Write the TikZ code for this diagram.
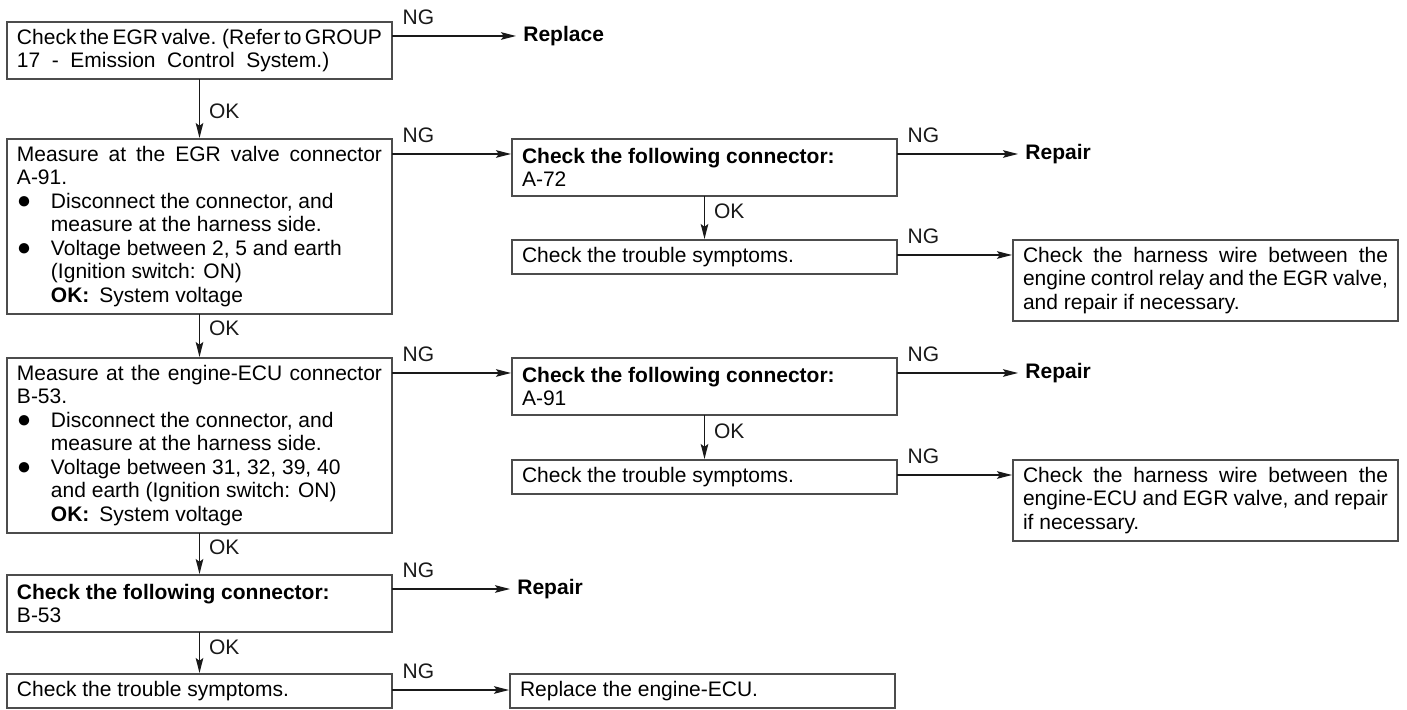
\documentclass[tikz,border=0pt]{standalone}
\usepackage{fontspec}
\setmainfont{Liberation Sans}
\usepackage{tikz}
\usetikzlibrary{arrows.meta, positioning}

\tolerance=10000
\hbadness=10000
\newcommand{\itembul}{\makebox[17pt][l]{\fontsize{12pt}{8pt}\selectfont ●}}
\newcommand{\itemind}{\hspace*{17pt}}

\begin{document}
\begin{tikzpicture}[
    font=\fontsize{10.5pt}{11.75pt}\selectfont,
    checkbox/.style={rectangle, draw=black!70, line width=0.8pt, outer sep=0pt, text width=182.5pt, inner xsep=5pt, inner ysep=0pt, minimum height=#1, align=justify},
    checkbox/.default=17pt,
    result/.style={font=\fontsize{10.5pt}{11.75pt}\selectfont\bfseries, inner xsep=3pt},
    flow/.style={-{Stealth[length=7.5pt, width=3.8pt, inset=1.4pt]}, line width=0.65pt, color=black!90, shorten >=0.5pt},
    ng/.style={pos=0, anchor=south west, inner sep=0pt, xshift=5pt, yshift=5.5pt},
    ok/.style={right=4.5pt, inner sep=0pt},
]
    \useasboundingbox (0pt,0pt) rectangle (703.5pt,-355pt);

    % Left column
    \node[checkbox=28.5pt, anchor=north west] (b1) at (3.5pt,-11pt) {\spaceskip=0.2em plus 0.2em minus 0.05em
        Check the EGR valve. (Refer to GROUP\linebreak\spaceskip=0.55em 17 - Emission Control System.)};
    \node[checkbox=87.5pt, below=30pt of b1] (b2) {Measure at the EGR valve connector\linebreak A-91.\\
        \itembul Disconnect the connector, and\\
        \itemind measure at the harness side.\\
        \itembul Voltage between 2, 5 and earth\\
        \itemind (Ignition switch: ON)\\
        \itemind\textbf{OK:}\hspace{5pt}System voltage};
    \node[checkbox=87.5pt, below=22pt of b2] (b6) {Measure at the engine-ECU connector\linebreak B-53.\\
        \itembul Disconnect the connector, and\\
        \itemind measure at the harness side.\\
        \itembul Voltage between 31, 32, 39, 40\\
        \itemind and earth (Ignition switch: ON)\\
        \itemind\textbf{OK:}\hspace{5pt}System voltage};
    \node[checkbox=28.5pt, below=21pt of b6] (b10) {\textbf{Check the following connector:}\\B-53};
    \node[checkbox, below=21pt of b10] (b11) {Check the trouble symptoms.};

    % Middle column
    \node[checkbox=28.5pt, right=60pt of b2.north east, anchor=north west] (b3) {\textbf{Check the following connector:}\\A-72};
    \node[checkbox, below=22pt of b3] (b4) {Check the trouble symptoms.};
    \node[checkbox=28.5pt, right=60pt of b6.north east, anchor=north west] (b7) {\textbf{Check the following connector:}\\A-91};
    \node[checkbox, below=22.5pt of b7] (b8) {Check the trouble symptoms.};
    \node[checkbox, right=59pt of b11.north east, anchor=north west] (b12) {Replace the engine-ECU.};

    % Right column
    \node[checkbox=40.5pt, right=58pt of b4.north east, anchor=north west] (b5) {Check the harness wire between the\linebreak engine control relay and the EGR valve,\linebreak and repair if necessary.};
    \node[checkbox=40.5pt, right=58pt of b8.north east, anchor=north west] (b9) {Check the harness wire between the\linebreak engine-ECU and EGR valve, and repair\linebreak if necessary.};

    % Results
    \node[result, right=62.5pt of b1.north east, yshift=-7pt] (r1) {Replace};
    \node[result, right=61pt of b3.north east, yshift=-7.5pt] (r2) {Repair};
    \node[result, right=61pt of b7.north east, yshift=-7.5pt] (r3) {Repair};
    \node[result, right=59.5pt of b10.north east, yshift=-7pt] (r4) {Repair};

    % OK connections
    \draw[flow] (b1) -- node[ok, pos=0.53] {OK} (b2);
    \draw[flow] (b2) -- node[ok, pos=0.33] {OK} (b6);
    \draw[flow] (b6) -- node[ok, pos=0.35] {OK} (b10);
    \draw[flow] (b10) -- node[ok, pos=0.36] {OK} (b11);
    \draw[flow] (b3) -- node[ok, pos=0.35] {OK} (b4);
    \draw[flow] (b7) -- node[ok, pos=0.36] {OK} (b8);

    % NG connections
    \draw[flow] ([yshift=-7pt]b1.north east) -- node[ng] {NG} (r1);
    \draw[flow] ([yshift=-7.5pt]b2.north east) -- node[ng] {NG} ([yshift=-7.5pt]b3.north west);
    \draw[flow] ([yshift=-7.5pt]b3.north east) -- node[ng] {NG} (r2);
    \draw[flow] ([yshift=-7.5pt]b4.north east) -- node[ng] {NG} ([yshift=-7.5pt]b5.north west);
    \draw[flow] ([yshift=-7.5pt]b6.north east) -- node[ng] {NG} ([yshift=-7.5pt]b7.north west);
    \draw[flow] ([yshift=-7.5pt]b7.north east) -- node[ng] {NG} (r3);
    \draw[flow] ([yshift=-7.5pt]b8.north east) -- node[ng] {NG} ([yshift=-7.5pt]b9.north west);
    \draw[flow] ([yshift=-7pt]b10.north east) -- node[ng] {NG} (r4);
    \draw[flow] ([yshift=-8pt]b11.north east) -- node[ng] {NG} ([yshift=-8pt]b12.north west);
\end{tikzpicture}
\end{document}
